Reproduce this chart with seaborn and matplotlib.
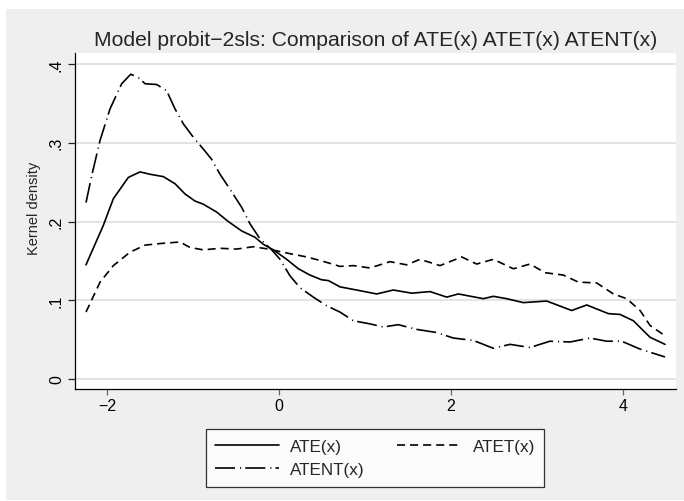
import numpy as np
import pandas as pd
import matplotlib
matplotlib.use("Agg")
import matplotlib.pyplot as plt
from matplotlib.patches import Rectangle
from matplotlib.lines import Line2D
from matplotlib import font_manager
import seaborn as sns

# ---- data ----
ate_x = [-2.244, -2.043, -1.926, -1.752, -1.616, -1.5, -1.345, -1.209, -1.093, -0.977, -0.88, -0.725,
         -0.59, -0.434, -0.279, -0.182, -0.066, 0.089, 0.225, 0.36, 0.496, 0.574, 0.709, 0.903, 1.136,
         1.329, 1.543, 1.756, 1.95, 2.085, 2.376, 2.492, 2.647, 2.841, 3.113, 3.403, 3.578, 3.83, 3.965,
         4.12, 4.314, 4.488]
ate_y = [0.145, 0.195, 0.229, 0.256, 0.263, 0.260, 0.257, 0.248, 0.235, 0.226, 0.222, 0.212, 0.200,
         0.188, 0.180, 0.171, 0.164, 0.152, 0.140, 0.132, 0.126, 0.125, 0.117, 0.113, 0.108, 0.113,
         0.109, 0.111, 0.104, 0.108, 0.102, 0.105, 0.102, 0.097, 0.099, 0.087, 0.094, 0.083, 0.082,
         0.074, 0.053, 0.044]

atet_x = [-2.244, -2.081, -1.926, -1.733, -1.558, -1.384, -1.151, -1.035, -0.88, -0.686, -0.492, -0.298,
          -0.124, 0.089, 0.322, 0.496, 0.709, 0.864, 1.058, 1.291, 1.484, 1.64, 1.872, 2.124, 2.298,
          2.492, 2.725, 2.919, 3.093, 3.306, 3.481, 3.694, 3.888, 4.043, 4.198, 4.314, 4.488]
atet_y = [0.085, 0.123, 0.144, 0.161, 0.170, 0.172, 0.174, 0.167, 0.164, 0.166, 0.165, 0.168, 0.165,
          0.160, 0.155, 0.150, 0.143, 0.144, 0.141, 0.149, 0.145, 0.152, 0.144, 0.155, 0.146, 0.152,
          0.140, 0.146, 0.135, 0.132, 0.123, 0.122, 0.108, 0.102, 0.087, 0.068, 0.055]

atent_x = [-2.244, -2.178, -2.081, -1.965, -1.829, -1.724, -1.636, -1.558, -1.422, -1.306, -1.209,
           -1.112, -0.996, -0.88, -0.783, -0.686, -0.57, -0.434, -0.337, -0.221, -0.085, 0.012, 0.128,
           0.244, 0.399, 0.554, 0.709, 0.864, 1.058, 1.213, 1.387, 1.601, 1.834, 2.027, 2.259, 2.492,
           2.686, 2.919, 3.151, 3.384, 3.616, 3.81, 3.984, 4.198, 4.488]
atent_y = [0.224, 0.258, 0.303, 0.343, 0.375, 0.387, 0.383, 0.375, 0.374, 0.366, 0.343, 0.324, 0.307,
           0.292, 0.279, 0.260, 0.241, 0.218, 0.197, 0.178, 0.164, 0.152, 0.131, 0.116, 0.104, 0.093,
           0.085, 0.074, 0.070, 0.066, 0.069, 0.063, 0.059, 0.052, 0.049, 0.039, 0.044, 0.040, 0.048,
           0.047, 0.052, 0.048, 0.048, 0.038, 0.028]

series_names = ["ATE(x)", "ATET(x)", "ATENT(x)"]
x_ticks = [-2, 0, 2, 4]
y_ticks = [0, 0.1, 0.2, 0.3, 0.4]
y_tick_labels = ["0", ".1", ".2", ".3", ".4"]
title = "Model probit\u22122sls: Comparison of ATE(x) ATET(x) ATENT(x)"
y_label = "Kernel density"

df = pd.concat([
    pd.DataFrame({"x": ate_x, "y": ate_y, "series": series_names[0]}),
    pd.DataFrame({"x": atet_x, "y": atet_y, "series": series_names[1]}),
    pd.DataFrame({"x": atent_x, "y": atent_y, "series": series_names[2]}),
], ignore_index=True)

# ---- style ----
sns.set_theme(style="white")
plt.rcParams["font.family"] = ["Liberation Sans", "DejaVu Sans"]
plt.rcParams["lines.scale_dashes"] = False

installed = {f.name for f in font_manager.fontManager.ttflist}
if "Liberation Sans Narrow" in installed:
    ylab_family, ylab_size = ["Liberation Sans Narrow", "Liberation Sans"], 12.0
else:
    ylab_family, ylab_size = ["Liberation Sans", "DejaVu Sans"], 10.5

W, H = 684, 502
fig = plt.figure(figsize=(W / 100, H / 100), dpi=100, facecolor="white")
bg = "#EFEFEF"
fig.patches.append(Rectangle((6 / W, 1 / H), 1 - 6 / W, 1 - 11 / H, transform=fig.transFigure,
                             facecolor=bg, edgecolor="none", zorder=-10))

L, R, T, B = 75, 676, 54, 390
ax = fig.add_axes([L / W, 1 - B / H, (R - L) / W, (B - T) / H])
ax.set_facecolor("white")

dash_map = {
    "ATE(x)": "",
    "ATET(x)": (5.8, 3.6),
    "ATENT(x)": (14.4, 3.6, 0.8, 3.0),
}
sns.lineplot(data=df, x="x", y="y", style="series", dashes=dash_map, color="black",
             estimator=None, sort=False, linewidth=1.2, legend=False, ax=ax)

ax.set_xlim(-2.372, 4.616)
ax.set_ylim(-0.0127, 0.414)
ax.set_xticks(x_ticks)
ax.set_xticklabels(["\u22122", "0", "2", "4"])
ax.set_yticks(y_ticks)
ax.set_yticklabels(y_tick_labels, rotation=90, va="center")
ax.grid(axis="y", color="#E3E3E3", linewidth=1.4)
ax.grid(axis="x", visible=False)
ax.set_axisbelow(True)
for s in ["top", "right"]:
    ax.spines[s].set_visible(False)
for s in ["left", "bottom"]:
    ax.spines[s].set_color("black")
    ax.spines[s].set_linewidth(0.9)
ax.tick_params(axis="y", which="both", left=True, length=5, width=0.9, color="#222222",
               labelsize=11.5, pad=3, labelcolor="black")
ax.tick_params(axis="x", which="both", bottom=True, length=4.3, width=0.9, color="#666666",
               labelsize=11.5, pad=2, labelcolor="black")
ax.set_xlabel("")
ax.set_ylabel("")

fig.text(34 / W, 1 - 208 / H, y_label, rotation=90, ha="center", va="center",
         fontsize=ylab_size, family=ylab_family)
fig.text(376 / W, 1 - 46 / H, title, ha="center", va="baseline", fontsize=15.2)

handles = [Line2D([], [], color="black", linewidth=1.2, linestyle="-"),
           Line2D([], [], color="black", linewidth=1.2, dashes=dash_map["ATET(x)"]),
           Line2D([], [], color="black", linewidth=1.2, dashes=dash_map["ATENT(x)"])]
# order so that 2-column layout gives ATE, ATET on row 1 and ATENT on row 2
order_h = [handles[0], handles[2], handles[1]]
order_l = [series_names[0], series_names[2], series_names[1]]
leg = fig.legend(order_h, order_l, ncol=2, loc="center",
                 bbox_to_anchor=(375 / W, 1 - 459 / H), fontsize=12.3,
                 frameon=True, fancybox=False, edgecolor="black", facecolor="white",
                 handlelength=3.75, handletextpad=0.65, columnspacing=1.9,
                 labelspacing=0.5, borderpad=0.55, borderaxespad=0)
leg.get_frame().set_linewidth(0.9)

fig.savefig("out.png", dpi=100, facecolor=fig.get_facecolor())
